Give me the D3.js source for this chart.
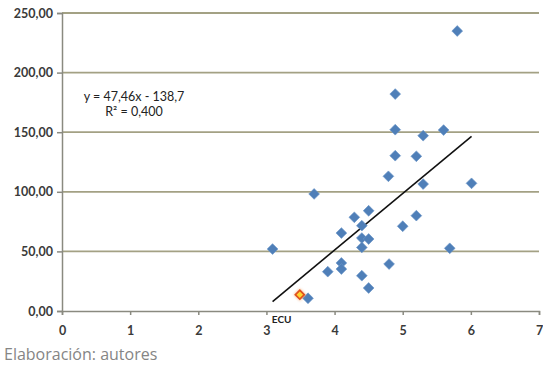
<!DOCTYPE html>
<html>
<head>
<meta charset="utf-8">
<script src="https://cdn.jsdelivr.net/npm/d3@7"></script>
<style>
  html, body { margin: 0; padding: 0; background: #fff; }
  svg { display: block; }
</style>
</head>
<body>
<svg id="chart" width="543" height="365"></svg>
<script>
// Country observations (x index, y value)
const xValues = [5.80, 4.89, 4.89, 5.30, 5.60, 4.89, 5.20, 4.79, 5.30, 6.01,
                 3.70, 4.50, 4.29, 5.20, 4.40, 5.00, 4.10, 4.40, 4.50, 4.40,
                 3.09, 5.69, 4.10, 4.10, 3.90, 4.80, 4.40, 4.50, 3.61];
const yValues = [234.9, 182.0, 152.1, 147.1, 151.8, 130.3, 129.8, 113.0, 106.5, 107.1,
                 98.2, 84.1, 78.6, 80.0, 71.6, 71.1, 65.4, 61.2, 60.4, 53.3,
                 52.0, 52.6, 40.3, 35.2, 33.0, 39.4, 29.6, 19.3, 10.7];

// Highlighted country
const highlightLabel = ["ECU"];
const highlightX = [3.49];
const highlightY = [13.7];

// Linear trend
const slope = 47.46;
const intercept = -138.7;
const rSquared = "0,400";

const xTicks = [0, 1, 2, 3, 4, 5, 6, 7];
const yTicks = [0, 50, 100, 150, 200, 250];
const sourceNote = "Elaboración: autores";

const W = 543, H = 365;
const margin = { left: 62, right: 4, top: 13, bottom: 54 };

const svg = d3.select("#chart");
const fmt = v => d3.format(".2f")(v).replace(".", ",");

const x = d3.scaleLinear().domain([0, 7]).range([margin.left, W - margin.right]);
const y = d3.scaleLinear().domain([0, 250]).range([H - margin.bottom, margin.top]);

const FONT = "Lato, 'Open Sans', sans-serif";

// Horizontal gridlines
svg.append("g")
  .selectAll("line")
  .data(yTicks.filter(d => d > 0))
  .join("line")
  .attr("x1", x(0)).attr("x2", x(7))
  .attr("y1", d => y(d)).attr("y2", d => y(d))
  .attr("stroke", "#a3a184")
  .attr("stroke-width", 1.8);

// Y axis
const yAxis = svg.append("g")
  .attr("transform", `translate(${x(0)},0)`)
  .call(d3.axisLeft(y).tickValues(yTicks).tickFormat(fmt).tickSize(5).tickPadding(4));
yAxis.select(".domain").attr("stroke", "#8a8a80").attr("stroke-width", 1.5);
yAxis.selectAll(".tick line").attr("stroke", "#8a8a80").attr("stroke-width", 1.5);
yAxis.selectAll("text")
  .attr("font-family", FONT).attr("font-size", 12.5).attr("font-weight", 700)
  .attr("fill", "#3a3a3a");

// X axis
const xAxis = svg.append("g")
  .attr("transform", `translate(0,${y(0)})`)
  .call(d3.axisBottom(x).tickValues(xTicks).tickFormat(d3.format("d")).tickSize(4).tickPadding(11));
xAxis.select(".domain").attr("stroke", "#8a8a80").attr("stroke-width", 1.5);
xAxis.selectAll(".tick line").attr("stroke", "#8a8a80").attr("stroke-width", 1.5);
xAxis.selectAll("text")
  .attr("font-family", FONT).attr("font-size", 12.5).attr("font-weight", 700)
  .attr("fill", "#3a3a3a");

// Trend line over the observed x range
const [xmin, xmax] = d3.extent(xValues);
svg.append("line")
  .attr("x1", x(xmin)).attr("y1", y(slope * xmin + intercept))
  .attr("x2", x(xmax)).attr("y2", y(slope * xmax + intercept))
  .attr("stroke", "#111").attr("stroke-width", 1.6);

// Observations as diamonds
const diamond = d3.symbol().type(d3.symbolSquare).size(58);
svg.append("g")
  .selectAll("path")
  .data(xValues.map((v, i) => [v, yValues[i]]))
  .join("path")
  .attr("d", diamond)
  .attr("transform", d => `translate(${x(d[0])},${y(d[1])}) rotate(45)`)
  .attr("fill", "#4f7fb8")
  .attr("stroke", "#6a95c8")
  .attr("stroke-width", 0.6);

// Highlighted point with soft glow
const defs = svg.append("defs");
const glow = defs.append("filter").attr("id", "glow").attr("x", "-100%").attr("y", "-100%")
  .attr("width", "300%").attr("height", "300%");
glow.append("feGaussianBlur").attr("stdDeviation", 1.3);

const hl = svg.append("g");
highlightX.forEach((hx, i) => {
  hl.append("path")
    .attr("d", d3.symbol().type(d3.symbolSquare).size(80))
    .attr("transform", `translate(${x(hx)},${y(highlightY[i])}) rotate(45)`)
    .attr("fill", "#f0a060").attr("opacity", 0.6).attr("filter", "url(#glow)");
  hl.append("path")
    .attr("d", d3.symbol().type(d3.symbolSquare).size(40))
    .attr("transform", `translate(${x(hx)},${y(highlightY[i])}) rotate(45)`)
    .attr("fill", "#ffd530").attr("stroke", "#e0501e").attr("stroke-width", 1.7);
  hl.append("text")
    .attr("x", x(highlightX[0]) - 28).attr("y", y(0) + 12)
    .attr("font-family", FONT).attr("font-size", 10).attr("font-weight", 700)
    .attr("fill", "#222")
    .text(highlightLabel[i]);
});

// Regression equation
const eq = svg.append("g")
  .attr("font-family", FONT).attr("font-size", 12.5).attr("fill", "#222")
  .attr("text-anchor", "middle");
eq.append("text").attr("x", 134).attr("y", 101)
  .text(`y = ${String(slope).replace(".", ",")}x - ${String(-intercept).replace(".", ",")}`);
eq.append("text").attr("x", 134).attr("y", 116)
  .text(`R² = ${rSquared}`);

// Source note
svg.append("text")
  .attr("x", 4).attr("y", 360)
  .attr("font-family", "'Open Sans', sans-serif").attr("font-size", 16).attr("fill", "#858585")
  .text(sourceNote);
</script>
</body>
</html>
